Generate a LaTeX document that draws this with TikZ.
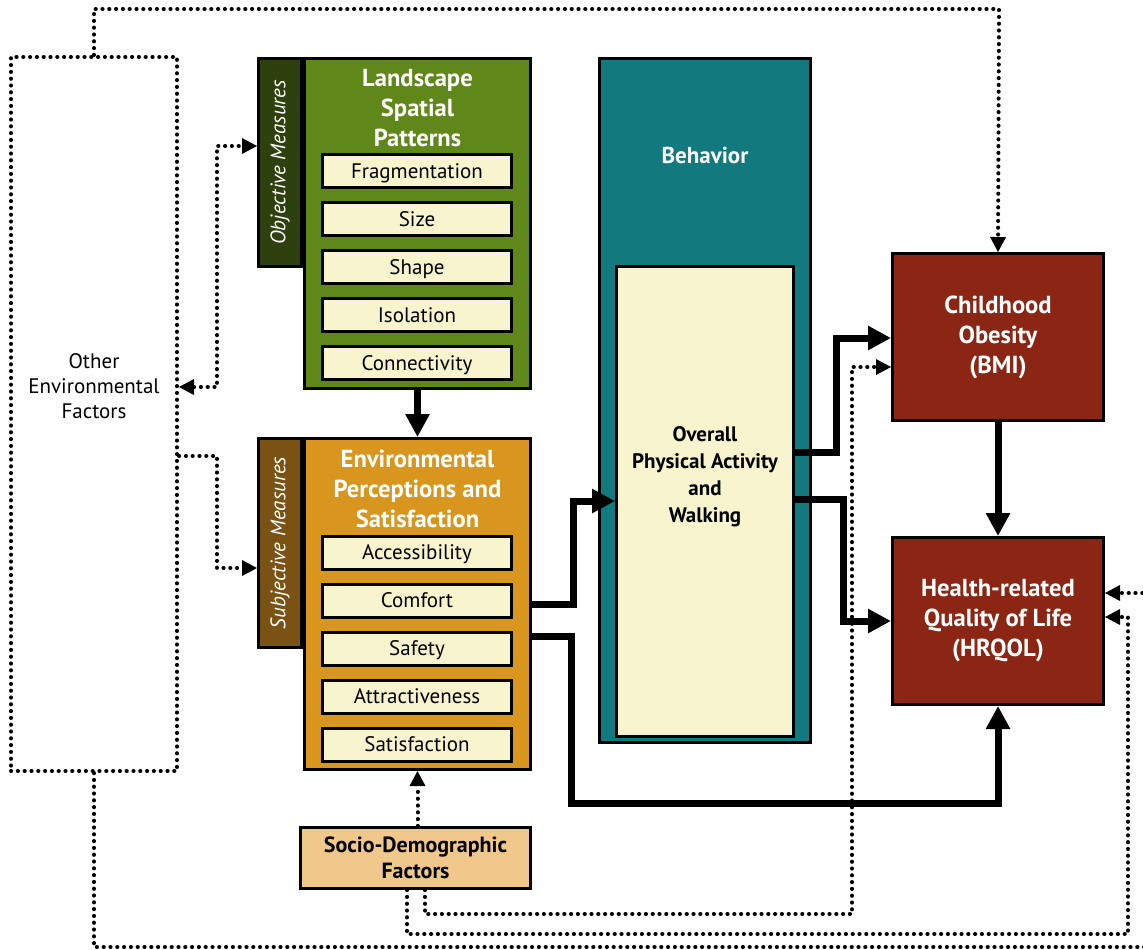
\documentclass[tikz,border=0pt]{standalone}
\usepackage{fontspec}
\setmainfont{PT Sans}
\usepackage{tikz}
\usetikzlibrary{positioning,shapes,arrows.meta,calc}

\definecolor{landgreen}{HTML}{5F8719}
\definecolor{objgreen}{HTML}{2E400E}
\definecolor{envorange}{HTML}{D8961E}
\definecolor{subjbrown}{HTML}{7A5214}
\definecolor{sociotan}{HTML}{F0C88C}
\definecolor{behavteal}{HTML}{127A7E}
\definecolor{itemcream}{HTML}{F7F4CE}
\definecolor{outcomered}{HTML}{8B2615}

\begin{document}
\begin{tikzpicture}[x=0.5pt, y=-0.5pt,
    panel/.style={draw, line width=1.5pt, rectangle, inner sep=0pt},
    itembox/.style={draw, line width=1.5pt, fill=itemcream, minimum width=94.5pt, minimum height=16.5pt, inner sep=0pt, text height=7.4pt, text depth=0pt, font=\fontsize{10.5}{12}\selectfont},
    titletext/.style={text=white, align=center, font=\bfseries\fontsize{12.3}{15}\selectfont},
    striptext/.style={text=white, rotate=90, font=\itshape\fontsize{10.5}{12}\selectfont},
    thickarrow/.style={line width=3.5pt, -{Triangle[length=11.5pt, width=11.5pt]}},
    dotline/.style={line width=2pt, line cap=round, dash pattern=on 0.1pt off 3.3pt},
    dottip/.style={-{Triangle[length=7.5pt, width=8pt, line width=0pt]}}]

  \clip (0,0) rectangle (1143,949);

  % Other factors, dotted outline with its label
  \node (otherbox) [draw, dotline, minimum width=83pt, minimum height=357pt, inner sep=0pt] at (94,414) {};
  \node (othertxt) [align=center, font=\fontsize{10.5}{12.5}\selectfont] at (94,386) {Other\\Environmental\\Factors};

  % Left column: landscape patterns
  \node (objstrip) [panel, fill=objgreen, minimum width=21.5pt, minimum height=104pt] at (280,162.5) {};
  \node (land) [panel, fill=landgreen, minimum width=113pt, minimum height=165pt] at (417.5,223.5) {};
  \node (landtitle) [titletext] at (417.5,108) {Landscape\\Spatial\\Patterns};
  \node [striptext] at (objstrip) {Objective Measures};
  \node (box_frag) [itembox] at (417,171) {Fragmentation};
  \node (box_size) [itembox, below=6pt of box_frag] {Size};
  \node (box_shape) [itembox, below=6pt of box_size] {Shape};
  \node (box_isol) [itembox, below=6pt of box_shape] {Isolation};
  \node (box_conn) [itembox, below=6pt of box_isol] {Connectivity};

  % Left column: perceptions
  \node (envstrip) [panel, fill=subjbrown, minimum width=21.5pt, minimum height=104.5pt] at (280,543) {};
  \node (env) [panel, fill=envorange, minimum width=113pt, minimum height=165.5pt] at (417.5,604) {};
  \node (envtitle) [titletext] at (417.5,489) {Environmental\\Perceptions and\\Satisfaction};
  \node [striptext] at (envstrip) {Subjective Measures};
  \node (box_acc) [itembox] at (417,552.5) {Accessibility};
  \node (box_comf) [itembox, below=6pt of box_acc] {Comfort};
  \node (box_safe) [itembox, below=6pt of box_comf] {Safety};
  \node (box_attr) [itembox, below=6pt of box_safe] {Attractiveness};
  \node (box_satis) [itembox, below=6pt of box_attr] {Satisfaction};

  \node (socio) [panel, fill=sociotan, minimum width=115pt, minimum height=30.5pt, align=center, font=\bfseries\fontsize{11}{13}\selectfont] at (415.5,858) {Socio-Demographic\\Factors};

  % Behavior column
  \node (behav) [panel, fill=behavteal, minimum width=105.5pt, minimum height=342pt] at (705,400.5) {};
  \node (behavtitle) [text=white, font=\bfseries\fontsize{11.5}{14}\selectfont] at (705,155) {Behavior};
  \node (behin) [panel, fill=itemcream, minimum width=88.5pt, minimum height=235pt] at (705,501.5) {};
  \node (behintxt) [align=center, font=\bfseries\fontsize{10.5}{13.5}\selectfont] at (705,477) {Overall\\Physical Activity\\and\\Walking};

  % Outcomes
  \node (obes) [panel, fill=outcomered, minimum width=105.5pt, minimum height=83.5pt, titletext] at (998,337) {Childhood\\Obesity\\(BMI)};
  \node (hrqol) [panel, fill=outcomered, minimum width=105.5pt, minimum height=83.5pt, titletext] at (998,621) {Health-related\\Quality of Life\\(HRQOL)};

  % Dotted links
  \draw[dotline, {Triangle[length=7.5pt, width=8pt, line width=0pt]}-{Triangle[length=7.5pt, width=8pt, line width=0pt]}]
      (otherbox.east |- 0,387) -- (217,387) -- (217,146) -- (objstrip.west |- 0,146);
  \draw[dotline, dottip] (otherbox.east |- 0,456) -- (217,456) -- (217,568) -- (envstrip.west |- 0,568);
  \draw[dotline, dottip] (env.south |- socio.north) -- (env.south);
  \draw[dotline, dottip] (otherbox.north) -- (94,9) -- (999,9) -- (obes.north);
  \draw[dotline, dottip] (otherbox.south) -- (94,947) -- (1160,947) -- (1160,593) -- (hrqol.east |- 0,593);
  \draw[dotline, dottip] (socio.south -| 425,0) -- (425,914) -- (852,914) -- (852,367) -- (obes.west |- 0,367);
  \draw[dotline, dottip] (socio.south -| 407,0) -- (407,934) -- (1128,934) -- (1128,617) -- (hrqol.east |- 0,617);

  % Solid paths
  \draw[thickarrow] (land.south) -- (env.north);
  \draw[thickarrow] (env.east |- 0,604) -- (573,604) -- (573,501) -- (behin.west |- 0,501);
  \draw[thickarrow] (env.east |- 0,636) -- (571,636) -- (571,803) -- (998,803) -- (hrqol.south);
  \draw[thickarrow] (behin.east |- 0,452) -- (836,452) -- (836,338) -- (obes.west |- 0,338);
  \draw[thickarrow] (behin.east |- 0,499) -- (843,499) -- (843,621) -- (hrqol.west);
  \draw[thickarrow] (obes.south) -- (hrqol.north);

\end{tikzpicture}
\end{document}
